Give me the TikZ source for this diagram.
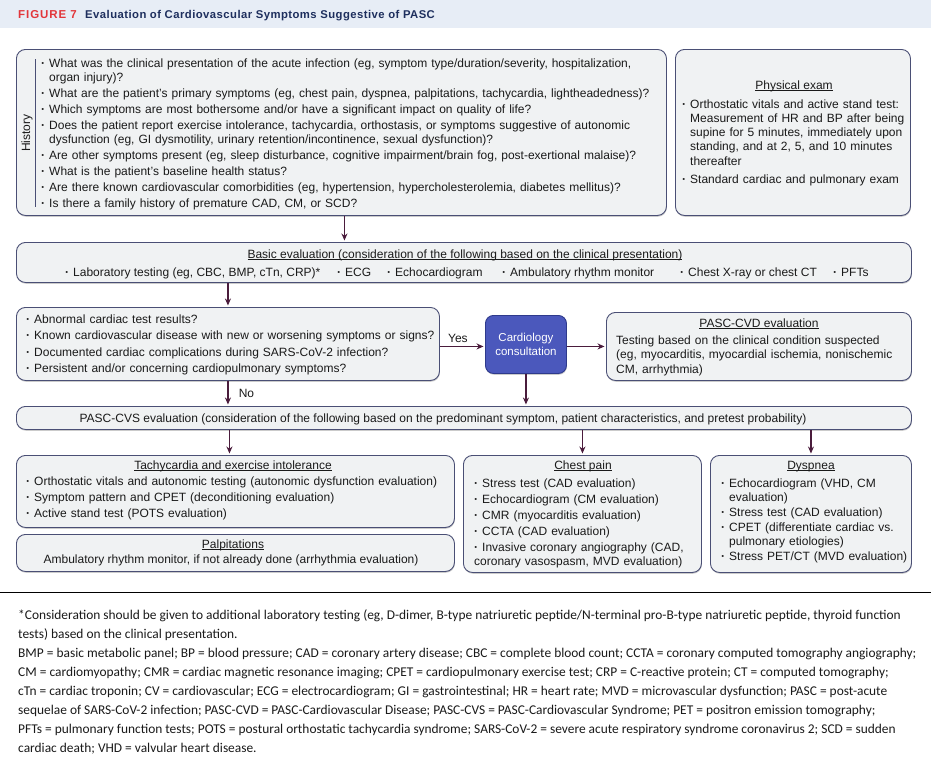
\documentclass[tikz,border=0pt]{standalone}
\usepackage{fontspec}
\setmainfont{Liberation Sans}
\newfontfamily\fnfont{Carlito}
\newfontfamily\titlefont{Liberation Sans}[LetterSpace=4]
\newfontfamily\figfont{Liberation Sans}[LetterSpace=8]
\usetikzlibrary{arrows.meta,shadows}
\definecolor{boxline}{HTML}{4A4F75}
\definecolor{boxfill}{HTML}{F0F2F3}
\definecolor{arrowc}{HTML}{4A1C3C}
\definecolor{cardfill}{HTML}{4B58BC}
\definecolor{cardline}{HTML}{2E3A8C}
\definecolor{band}{HTML}{E7EDF6}
\definecolor{figred}{HTML}{E2363B}
\definecolor{titleblue}{HTML}{1E2F5E}
\definecolor{txtc}{HTML}{1A1A1A}
\newcommand\fbul{\hangindent=8pt\hangafter=1\noindent\makebox[8pt][l]{\strut\textbf{·}}}
\newcommand\bul{\par\fbul}
\newcommand\uln[1]{\setbox0\hbox{#1}\rlap{\rule[-1.8pt]{\wd0}{0.6pt}}\box0}
\begin{document}
\begin{tikzpicture}[x=1pt,y=-1pt,
  box/.style={draw=boxline, fill=boxfill, line width=0.9pt, rounded corners=9pt, inner sep=0pt, anchor=north west,
    drop shadow={shadow xshift=0.4pt, shadow yshift=-1.3pt, fill=black!40, opacity=0.5}},
  txt/.style={inner sep=0pt, anchor=north west, align=left, text=txtc, font=\fontsize{12}{14}\selectfont},
  ctxt/.style={inner sep=0pt, anchor=base, text=txtc, font=\fontsize{12}{14}\selectfont},
  arr/.style={draw=arrowc, line width=1.7pt, -{Stealth[length=7pt,width=6pt]}, shorten >=1.5pt}
]
\useasboundingbox (0,0) rectangle (931,771);
\fill[white] (0,0) rectangle (931,771);
% title band
\fill[band] (0,0) rectangle (931,28);
\node[inner sep=0pt, anchor=base west, text=figred, font=\figfont\bfseries\fontsize{11.5}{13}\selectfont] (fig) at (18,18) {FIGURE 7};
\node[inner sep=0pt, anchor=base west, text=titleblue, font=\titlefont\bfseries\fontsize{11.3}{13}\selectfont] (title) at (85,18) {Evaluation of Cardiovascular Symptoms Suggestive of PASC};

% boxes
\node[box, minimum width=650pt, minimum height=166pt] (hist) at (16,49) {};
\node[box, minimum width=235pt, minimum height=166pt] (phys) at (675,49) {};
\node[box, minimum width=895pt, minimum height=40pt] (basic) at (16,242) {};
\node[box, minimum width=423pt, minimum height=73pt] (abn) at (16,307) {};
\node[box, draw=cardline, fill=cardfill, rounded corners=8pt, minimum width=81pt, minimum height=58pt,
  text=white, align=center, font=\fontsize{11.5}{13.5}\selectfont] (cardio) at (485,315) {Cardiology\\consultation};
\node[box, minimum width=305pt, minimum height=68pt] (cvd) at (606,312) {};
\node[box, minimum width=895pt, minimum height=23pt] (cvs) at (16,406) {};
\node[box, minimum width=438pt, minimum height=72pt] (tachy) at (16,455) {};
\node[box, minimum width=438pt, minimum height=37pt] (palp) at (16,534) {};
\node[box, minimum width=238pt, minimum height=117pt] (chest) at (463,455) {};
\node[box, minimum width=201pt, minimum height=117pt] (dysp) at (710,455) {};

% history
\node[rotate=90, inner sep=0pt, text=txtc, font=\fontsize{12}{14}\selectfont] (histlabel) at (27,133) {History};
\draw[boxline, line width=0.9pt] (35,59) coordinate (hl1) -- (35,207) coordinate (hl2);
\node[txt, text width=640pt] (histtxt) at (41,57.2) {\setlength{\parskip}{2pt}%
\fbul What was the clinical presentation of the acute infection (eg, symptom type/duration/severity, hospitalization,\newline organ injury)?
\bul What are the patient’s primary symptoms (eg, chest pain, dyspnea, palpitations, tachycardia, lightheadedness)?
\bul Which symptoms are most bothersome and/or have a significant impact on quality of life?
\bul Does the patient report exercise intolerance, tachycardia, orthostasis, or symptoms suggestive of autonomic\newline dysfunction (eg, GI dysmotility, urinary retention/incontinence, sexual dysfunction)?
\bul Are other symptoms present (eg, sleep disturbance, cognitive impairment/brain fog, post-exertional malaise)?
\bul What is the patient’s baseline health status?
\bul Are there known cardiovascular comorbidities (eg, hypertension, hypercholesterolemia, diabetes mellitus)?
\bul Is there a family history of premature CAD, CM, or SCD?};

% physical exam
\node[ctxt] (phystitle) at (794,89) {\uln{Physical exam}};
\node[txt, text width=228pt, font=\fontsize{12}{14.2}\selectfont] (phystxt) at (682,98.1) {\setlength{\parskip}{4pt}%
\fbul Orthostatic vitals and active stand test:\newline Measurement of HR and BP after being\newline supine for 5 minutes, immediately upon\newline standing, and at 2, 5, and 10 minutes\newline thereafter
\bul Standard cardiac and pulmonary exam};

% basic evaluation
\node[ctxt] (basictitle) at (465,258) {\uln{Basic evaluation (consideration of the following based on the clinical presentation)}};
\node[ctxt, anchor=base west] (b1) at (65,276) {\textbf{·}\hspace{4pt}Laboratory testing (eg, CBC, BMP, cTn, CRP)*};
\node[ctxt, anchor=base west] (b2) at (337,276) {\textbf{·}\hspace{4pt}ECG};
\node[ctxt, anchor=base west] (b3) at (387,276) {\textbf{·}\hspace{4pt}Echocardiogram};
\node[ctxt, anchor=base west] (b4) at (502,276) {\textbf{·}\hspace{4pt}Ambulatory rhythm monitor};
\node[ctxt, anchor=base west] (b5) at (680,276) {\textbf{·}\hspace{4pt}Chest X-ray or chest CT};
\node[ctxt, anchor=base west] (b6) at (833,276) {\textbf{·}\hspace{4pt}PFTs};

% abnormal
\node[txt, text width=420pt] (abntxt) at (26,313.2) {\setlength{\parskip}{2.5pt}%
\fbul Abnormal cardiac test results?
\bul Known cardiovascular disease with new or worsening symptoms or signs?
\bul Documented cardiac complications during SARS-CoV-2 infection?
\bul Persistent and/or concerning cardiopulmonary symptoms?};

% PASC-CVD
\node[ctxt] (cvdtitle) at (759,327) {\uln{PASC-CVD evaluation}};
\node[txt, text width=300pt, font=\fontsize{12}{14.5}\selectfont] (cvdtxt) at (616,333.9) {\strut Testing based on the clinical condition suspected\newline (eg, myocarditis, myocardial ischemia, nonischemic\newline CM, arrhythmia)};

% PASC-CVS
\node[ctxt] (cvstxt) at (443,422) {PASC-CVS evaluation (consideration of the following based on the predominant symptom, patient characteristics, and pretest probability)};

% tachycardia
\node[ctxt] (tachytitle) at (233,469) {\uln{Tachycardia and exercise intolerance}};
\node[txt, text width=440pt] (tachytxt) at (26,475.2) {\setlength{\parskip}{2pt}%
\fbul Orthostatic vitals and autonomic testing (autonomic dysfunction evaluation)
\bul Symptom pattern and CPET (deconditioning evaluation)
\bul Active stand test (POTS evaluation)};

% palpitations
\node[ctxt] (palptitle) at (233,548) {\uln{Palpitations}};
\node[ctxt] (palptxt) at (231,563) {Ambulatory rhythm monitor, if not already done (arrhythmia evaluation)};

% chest pain
\node[ctxt] (chesttitle) at (583,469) {\uln{Chest pain}};
\node[txt, text width=235pt] (chesttxt) at (474,477.2) {\setlength{\parskip}{2pt}%
\fbul Stress test (CAD evaluation)
\bul Echocardiogram (CM evaluation)
\bul CMR (myocarditis evaluation)
\bul CCTA (CAD evaluation)
\bul Invasive coronary angiography (CAD,\newline coronary vasospasm, MVD evaluation)};

% dyspnea
\node[ctxt] (dysptitle) at (811,469) {\uln{Dyspnea}};
\node[txt, text width=200pt] (dysptxt) at (721,477.2) {\setlength{\parskip}{1.2pt}%
\fbul Echocardiogram (VHD, CM\newline evaluation)
\bul Stress test (CAD evaluation)
\bul CPET (differentiate cardiac vs.\newline pulmonary etiologies)
\bul Stress PET/CT (MVD evaluation)};

% connectors
\draw[arr] ([xshift=3pt]hist.south) -- ([xshift=3pt]hist.south |- basic.north);
\draw[arr] (abn.north |- basic.south) -- (abn.north);
\draw[arr] ([yshift=-2pt]cardio.west -| abn.east) -- node[above=2pt, pos=0.4, text=txtc, font=\fontsize{12}{14}\selectfont, inner sep=1pt] (yes) {Yes} ([yshift=-2pt]cardio.west);
\draw[arr] ([yshift=-2pt]cardio.east) -- ([yshift=-2pt]cardio.east -| cvd.west);
\draw[arr] (cardio.south) -- (cardio.south |- cvs.north);
\draw[arr] (abn.south) -- node[right=9pt, text=txtc, font=\fontsize{12}{14}\selectfont, inner sep=1pt] (no) {No} (abn.south |- cvs.north);
\draw[arr] ([xshift=-6pt]tachy.north |- cvs.south) -- ([xshift=-6pt]tachy.north);
\draw[arr] (chest.north |- cvs.south) -- (chest.north);
\draw[arr] (dysp.north |- cvs.south) -- (dysp.north);

% footnote
\draw[black, line width=1pt] (0,592) coordinate (r1) -- (931,592) coordinate (r2);
\node[inner sep=0pt, anchor=north west, align=left, text=txtc, font=\fnfont\fontsize{13.4}{19}\selectfont] (foot) at (18,605.7) {\strut *Consideration should be given to additional laboratory testing (eg, D-dimer, B-type natriuretic peptide/N-terminal pro-B-type natriuretic peptide, thyroid function\\
tests) based on the clinical presentation.\\
BMP = basic metabolic panel; BP = blood pressure; CAD = coronary artery disease; CBC = complete blood count; CCTA = coronary computed tomography angiography;\\
CM = cardiomyopathy; CMR = cardiac magnetic resonance imaging; CPET = cardiopulmonary exercise test; CRP = C-reactive protein; CT = computed tomography;\\
cTn = cardiac troponin; CV = cardiovascular; ECG = electrocardiogram; GI = gastrointestinal; HR = heart rate; MVD = microvascular dysfunction; PASC = post-acute\\
sequelae of SARS-CoV-2 infection; PASC-CVD = PASC-Cardiovascular Disease; PASC-CVS = PASC-Cardiovascular Syndrome; PET = positron emission tomography;\\
PFTs = pulmonary function tests; POTS = postural orthostatic tachycardia syndrome; SARS-CoV-2 = severe acute respiratory syndrome coronavirus 2; SCD = sudden\\
cardiac death; VHD = valvular heart disease.};
\end{tikzpicture}
\end{document}
